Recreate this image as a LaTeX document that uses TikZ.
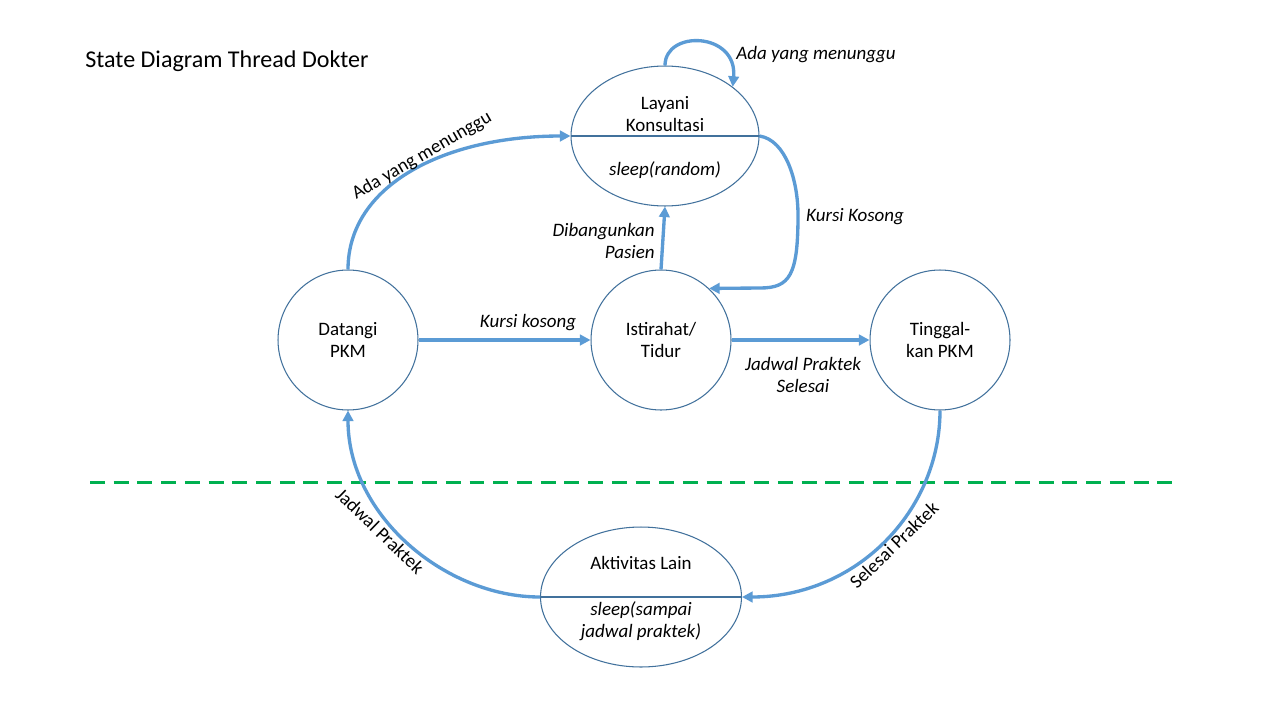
\documentclass[tikz,border=0pt]{standalone}
\usepackage{fontspec}
\setmainfont{Carlito}
\usetikzlibrary{arrows.meta,shapes.geometric}
\definecolor{arrowblue}{RGB}{91,155,213}
\definecolor{edgeblue}{RGB}{65,113,156}
\definecolor{dashgreen}{RGB}{0,176,80}
\begin{document}
\begin{tikzpicture}[x=0.02cm,y=-0.02cm,
  statecirc/.style={circle,draw=edgeblue,line width=0.6pt,minimum size=2.8cm,inner sep=0pt,align=center,font=\fontsize{10.8}{12.6}\selectfont},
  stateell/.style={ellipse,draw=edgeblue,line width=0.6pt,minimum height=2.8cm,inner sep=0pt},
  divider/.style={draw=edgeblue,line width=0.6pt},
  stxt/.style={font=\fontsize{10.8}{12.6}\selectfont,align=center,inner sep=0pt},
  stxti/.style={font=\fontsize{10.8}{12.6}\selectfont\itshape,align=center,inner sep=0pt},
  lbl/.style={font=\fontsize{10.8}{12.6}\selectfont\itshape,align=center,inner sep=0pt},
  lblup/.style={font=\fontsize{10.8}{12.6}\selectfont,inner sep=0pt},
  trans/.style={draw=arrowblue,line width=1.9pt,-{Triangle[length=6pt,width=6pt]}},
  sep/.style={draw=dashgreen,line width=1.7pt,dash pattern=on 8.5pt off 5pt},
]
\fill[white] (0,0) rectangle (1280,720);
\useasboundingbox (0,0) rectangle (1280,720);

% title
\node[anchor=west,font=\fontsize{13.7}{16}\selectfont,inner sep=0pt] (title) at (85,61) {State Diagram Thread Dokter};

% states
\node[statecirc] (dat) at (348,340) {Datangi\\PKM};
\node[statecirc] (ist) at (661,340) {Istirahat/\\Tidur};
\node[statecirc] (tin) at (940,340) {Tinggal-\\kan PKM};
\node[stateell,minimum width=3.76cm] (lay) at (665,136) {};
\node[stateell,minimum width=4.02cm] (akt) at (641,597) {};
\draw[divider] (lay.west) -- (lay.east);
\draw[divider] (akt.west) -- (akt.east);
\node[stxt] (laytop) at (665,114) {Layani\\Konsultasi};
\node[stxti] (laybot) at (665,170) {sleep(random)};
\node[stxt] (akttop) at (641,563) {Aktivitas Lain};
\node[stxti] (aktbot) at (641,621) {sleep(sampai\\jadwal praktek)};

% separator
\coordinate (gl) at (90,482);
\coordinate (gr) at (1175,482);
\draw[sep] (gl) -- (gr);

% transitions
\draw[trans] (dat.east) -- (ist.west);
\draw[trans] (ist.east) -- (tin.west);
\draw[trans] (ist.north) -- (lay.south);
\draw[trans] (dat.north) .. controls +(0,-85) and +(-125,0) .. (lay.west);
\draw[trans] (lay.north) .. controls +(0,-36) and +(5,-55) .. (lay.36);
\coordinate (kk1) at (798,215);
\coordinate (kk2) at (760,288);
\draw[trans] (lay.east) .. controls +(26,4) and +(0,-35) .. (kk1) .. controls +(0,60) and +(30,0) .. (kk2) -- (ist.47);
\draw[trans] (tin.south) .. controls +(0,100) and +(115,0) .. (akt.east);
\draw[trans] (akt.west) .. controls +(-95,0) and +(0,105) .. (dat.south);

% labels
\node[lbl] (l1) at (528,323) {Kursi kosong};
\node[lbl] (l2) at (803,375) {Jadwal Praktek\\Selesai};
\node[lbl,anchor=east,align=right] (l3) at (655,241) {Dibangunkan\\Pasien};
\node[lbl] (l4) at (855,217) {Kursi Kosong};
\node[lbl] (l5) at (816,55) {Ada yang menunggu};
\node[lblup,rotate=30] (l6) at (422,156) {Ada yang menunggu};
\node[lblup,rotate=44] (l7) at (894,545) {Selesai Praktek};
\node[lblup,rotate=-44] (l8) at (380,531) {Jadwal Praktek};
\end{tikzpicture}
\end{document}
